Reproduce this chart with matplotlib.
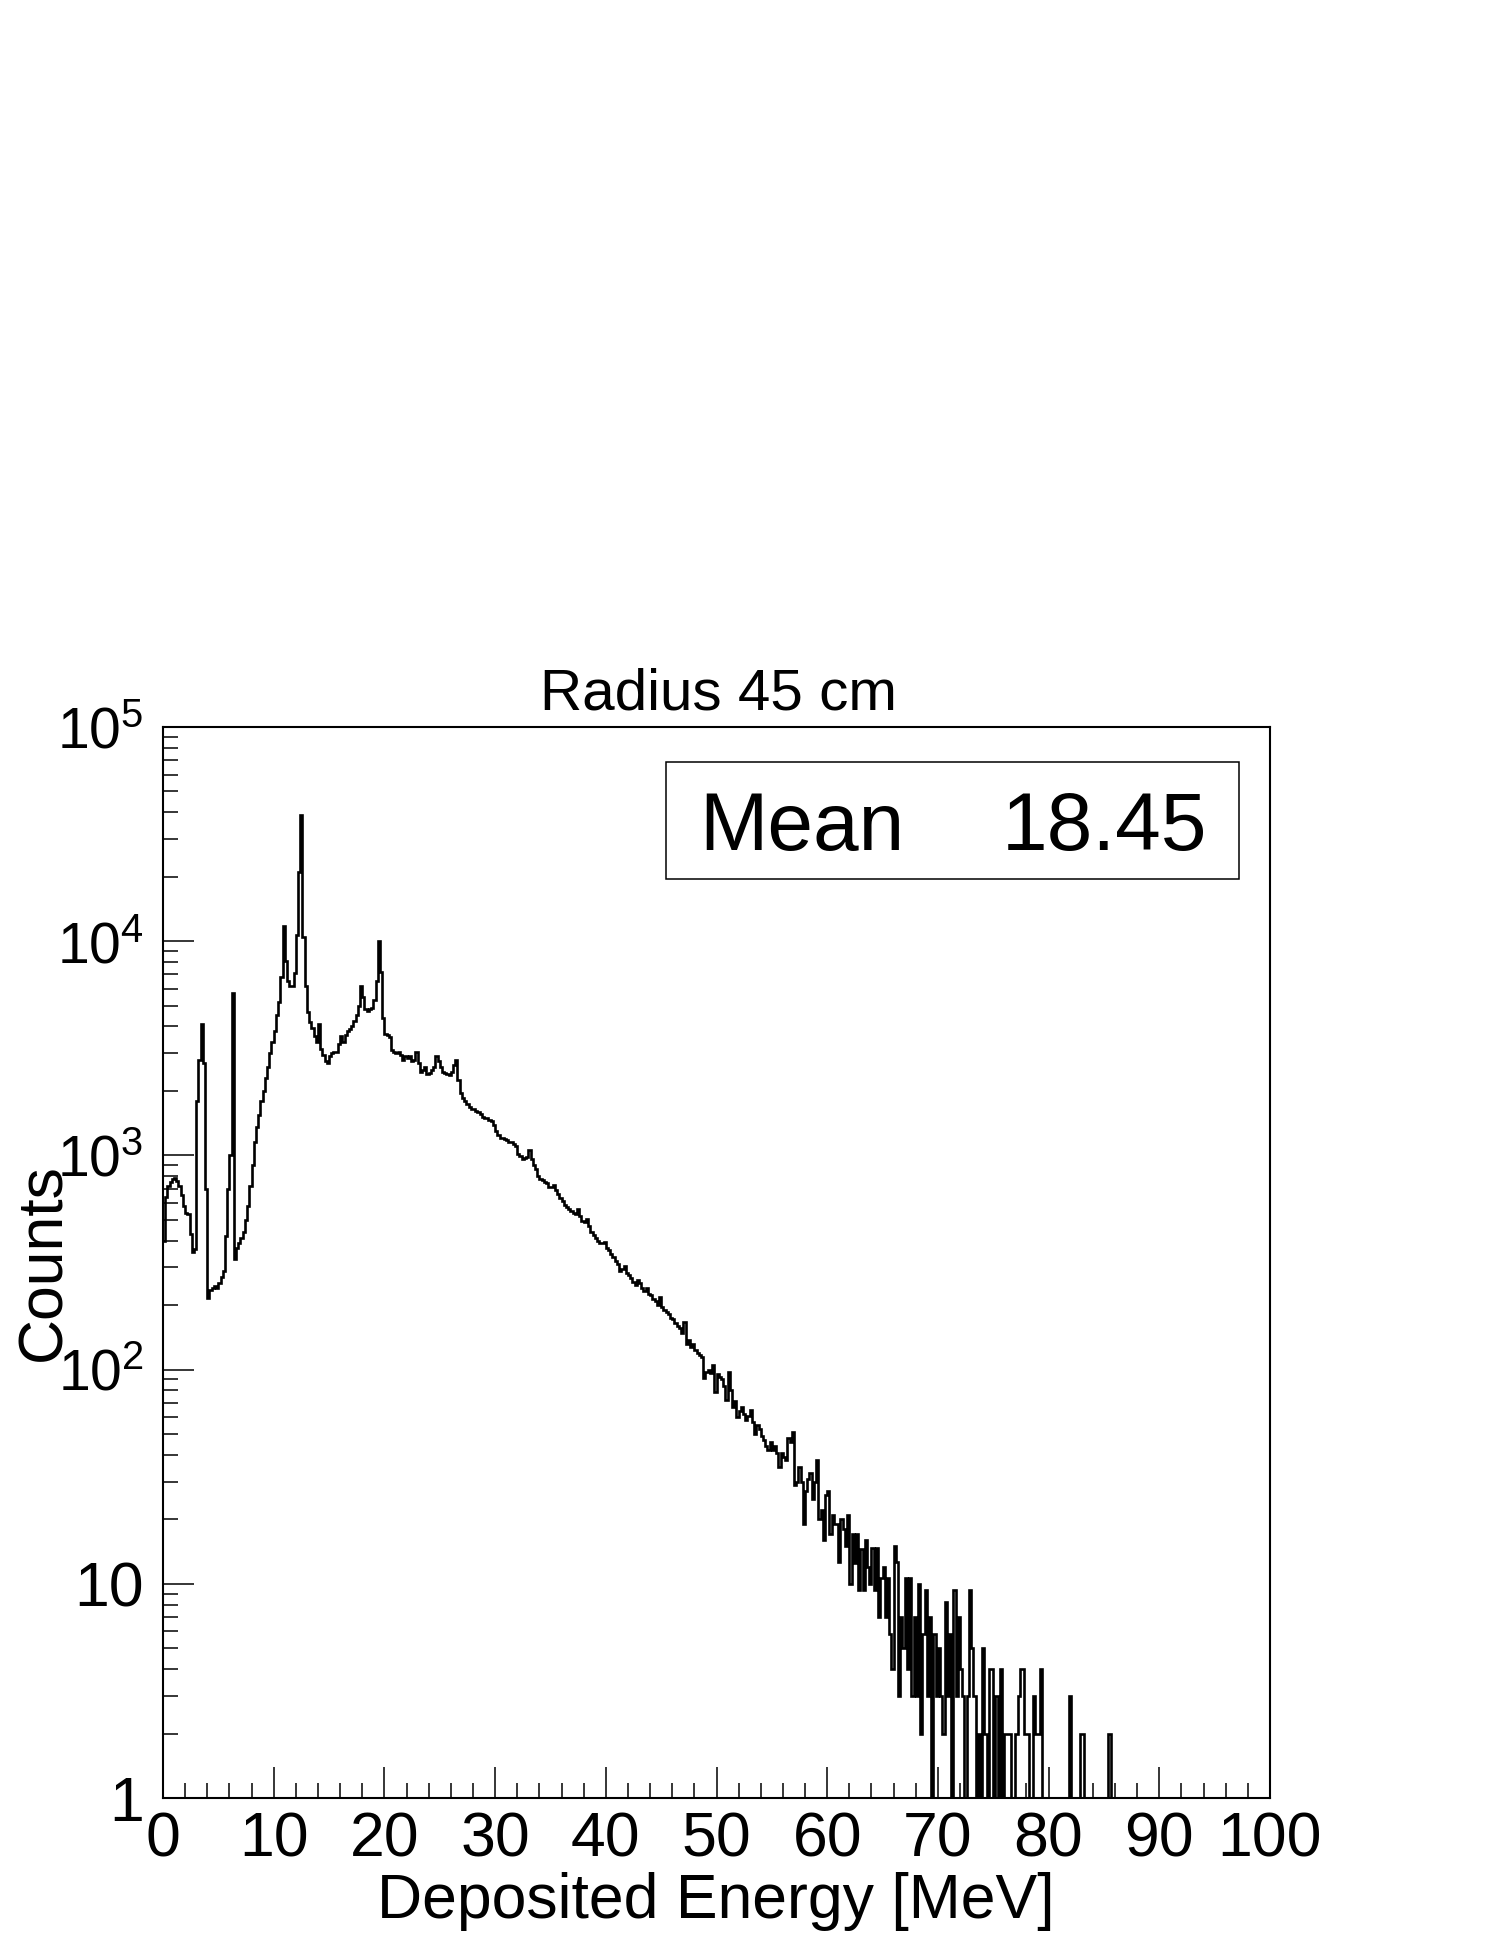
import numpy as np
import matplotlib
matplotlib.use('Agg')
import matplotlib.pyplot as plt
from matplotlib.ticker import MultipleLocator, FixedLocator, FuncFormatter, NullFormatter
from matplotlib.patches import Rectangle

plt.rcParams['font.family'] = ['Liberation Sans', 'DejaVu Sans']
plt.rcParams['mathtext.fontset'] = 'custom'
plt.rcParams['mathtext.rm'] = 'Liberation Sans'

# Histogramm: Bins zu 0.2 MeV, eine Zeile = 2 MeV
bin_width = 0.2
e00 = [400, 640, 720, 750, 775, 785, 760, 720, 650, 580]
e02 = [540, 530, 430, 355, 365, 1800, 2800, 4100, 2700, 700]
e04 = [215, 235, 240, 245, 240, 255, 270, 290, 420, 700]
e06 = [1000, 5700, 330, 370, 390, 410, 440, 500, 580, 720]
e08 = [900, 1150, 1350, 1550, 1800, 2000, 2300, 2600, 3000, 3400]
e10 = [3800, 4500, 5200, 6800, 11800, 8100, 6500, 6200, 6200, 7100]
e12 = [10700, 21000, 39000, 10500, 6200, 4650, 4200, 3950, 3600, 3400]
e14 = [4100, 3150, 2950, 2750, 2700, 2900, 3000, 3050, 3050, 3300]
e16 = [3600, 3400, 3650, 3800, 3900, 4000, 4250, 4500, 5000, 6150]
e18 = [5500, 4800, 4700, 4800, 4900, 5300, 6500, 10000, 7200, 4400]
e20 = [3700, 3640, 3570, 3100, 3050, 3000, 3050, 2950, 2800, 2900]
e22 = [2850, 2900, 2750, 2800, 3050, 2700, 2450, 2500, 2600, 2400]
e24 = [2420, 2500, 2600, 2900, 2750, 2600, 2450, 2420, 2400, 2380]
e26 = [2450, 2650, 2800, 2250, 1950, 1860, 1800, 1740, 1680, 1650]
e28 = [1640, 1620, 1600, 1560, 1510, 1500, 1490, 1470, 1440, 1380]
e30 = [1300, 1240, 1210, 1200, 1190, 1175, 1160, 1150, 1130, 1110]
e32 = [1010, 990, 960, 975, 985, 1060, 960, 900, 860, 800]
e34 = [780, 770, 755, 740, 715, 713, 725, 690, 660, 630]
e36 = [610, 585, 575, 560, 548, 540, 530, 565, 520, 495]
e38 = [490, 505, 470, 440, 425, 410, 400, 388, 392, 396]
e40 = [370, 360, 348, 335, 322, 310, 288, 296, 306, 283]
e42 = [275, 268, 256, 248, 262, 254, 240, 233, 240, 226]
e44 = [222, 214, 208, 200, 218, 196, 190, 185, 181, 174]
e46 = [172, 165, 160, 157, 148, 167, 132, 137, 128, 131]
e48 = [124, 120, 117, 114, 91, 97, 100, 96, 105, 79]
e50 = [95, 92, 90, 84, 72, 97, 80, 67, 71, 60]
e52 = [64, 67, 62, 58, 61, 65, 57, 50, 55, 53]
e54 = [49, 47, 44, 42, 46, 42, 44, 41, 35, 41]
e56 = [39, 38, 48, 46, 51, 29, 30, 35, 30, 19]
e58 = [27, 31, 33, 25, 30, 38, 20, 22, 16, 26]
e60 = [27, 17, 21, 19, 19, 12.7, 20, 18, 15, 21]
e62 = [10, 17, 12.5, 17, 9.4, 14.6, 9.4, 16, 12, 10]
e64 = [14.7, 9.4, 14.7, 7, 10.7, 12, 7, 10.7, 5.8, 4]
e66 = [15, 12.7, 3, 7, 5, 10.7, 4, 10.7, 3, 7]
e68 = [3, 10, 2, 5.8, 9.4, 3, 7, 0, 5.8, 3]
e70 = [5, 3, 2, 8.2, 3, 5.8, 0, 9.4, 3, 7]
e72 = [4, 3, 0, 3, 9.4, 5, 3, 0, 2, 0]
e74 = [5, 2, 0, 4, 4, 0, 3, 0, 4, 1]
e76 = [2, 2, 2, 0, 0, 2, 3, 4, 4, 2]
e78 = [2, 0, 0, 3, 2, 2, 4, 0, 0, 0]
e80 = [0, 0, 0, 0, 0, 0, 0, 0, 0, 3]
e82 = [1, 0, 0, 0, 2, 2, 0, 0, 0, 0]
e84 = [0, 0, 0, 0, 0, 0, 0, 2, 0, 0]

counts = np.array(e00 + e02 + e04 + e06 + e08 + e10 + e12 + e14 + e16 + e18 +
                  e20 + e22 + e24 + e26 + e28 + e30 + e32 + e34 + e36 + e38 +
                  e40 + e42 + e44 + e46 + e48 + e50 + e52 + e54 + e56 + e58 +
                  e60 + e62 + e64 + e66 + e68 + e70 + e72 + e74 + e76 + e78 +
                  e80 + e82 + e84, dtype=float)
edges = np.arange(len(counts) + 1) * bin_width

title_text = 'Radius 45 cm'
xlabel_text = 'Deposited Energy [MeV]'
ylabel_text = 'Counts'
mean_value = 18.45
y_ticks = [1, 10, 100, 1e3, 1e4, 1e5]
y_ticklabels = ['1', '10', r'$\mathregular{10^{2}}$', r'$\mathregular{10^{3}}$',
                r'$\mathregular{10^{4}}$', r'$\mathregular{10^{5}}$']

W, H = 1495, 1934
fig = plt.figure(figsize=(W / 100, H / 100), dpi=100)
ax = fig.add_axes([163 / W, 1 - 1798 / H, (1270 - 163) / W, (1798 - 727) / H])

# leere Bins fallen im Log-Plot auf den Rahmen
plot_counts = np.where(counts > 0, counts, 1e-3)
ax.stairs(plot_counts, edges, baseline=None, color='black', linewidth=1.9)

ax.set_yscale('log')
ax.set_xlim(0, 100)
ax.set_ylim(1, 1e5)

ax.xaxis.set_major_locator(MultipleLocator(10))
ax.xaxis.set_minor_locator(MultipleLocator(2))
ax.xaxis.set_major_formatter(FuncFormatter(lambda v, p: '%d' % v))
ax.set_yticks(y_ticks, labels=y_ticklabels)
ax.yaxis.set_minor_locator(FixedLocator([m * 10 ** d for d in range(5) for m in range(2, 10)]))
ax.yaxis.set_minor_formatter(NullFormatter())

ax.tick_params(which='both', direction='in', top=False, right=False, width=1.1, labelsize=45)
ax.tick_params(which='major', length=22.5)
ax.tick_params(which='minor', length=11)
ax.tick_params(axis='x', pad=9)
ax.tick_params(axis='y', pad=14)
for lbl in ax.get_yticklabels()[2:]:
    lbl.set_fontsize(41)
for s in ax.spines.values():
    s.set_linewidth(1.5)

fig.text(718 / W, 1 - 709 / H, title_text, ha='center', va='baseline', fontsize=42)
fig.text(716 / W, 1 - 1918 / H, xlabel_text, ha='center', va='baseline', fontsize=45)
fig.text(60 / W, 1 - 1262 / H, ylabel_text, ha='center', va='baseline', fontsize=45,
         rotation=90, rotation_mode='anchor')

# Statistikbox
fig.patches.append(Rectangle((666 / W, 1 - 879 / H), (1239 - 666) / W, (879 - 762) / H,
                             transform=fig.transFigure, fill=False, edgecolor='black',
                             linewidth=1.1))
fig.text(699 / W, 1 - 850 / H, 'Mean', ha='left', va='baseline', fontsize=59)
fig.text(1207 / W, 1 - 850 / H, '%.2f' % mean_value, ha='right', va='baseline', fontsize=59)

fig.savefig('out.png', dpi=100)
